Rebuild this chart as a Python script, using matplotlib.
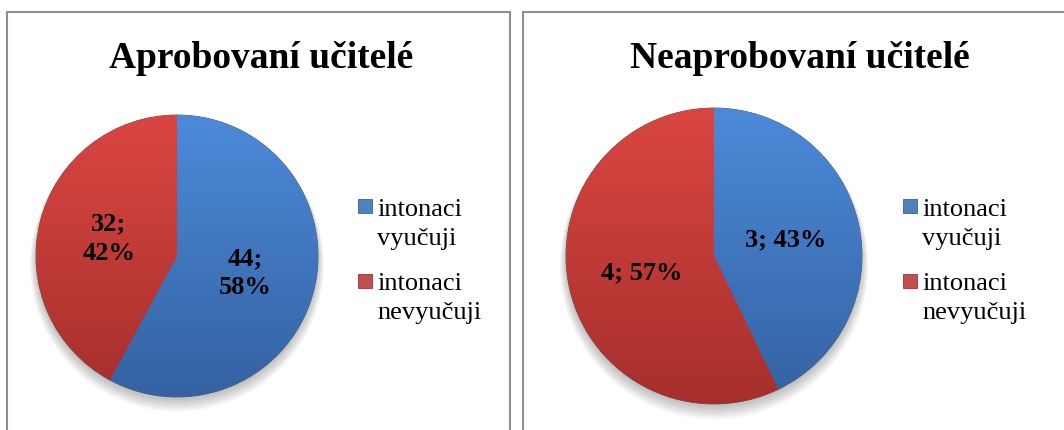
import numpy as np
import matplotlib.pyplot as plt
from matplotlib.patches import Rectangle, Circle
from matplotlib.colors import LinearSegmentedColormap

W, H = 1064, 430

titles = ['Aprobovaní učitelé', 'Neaprobovaní učitelé']
categories = ['intonaci vyučuji', 'intonaci nevyučuji']
aprobovani = [44, 32]
neaprobovani = [3, 4]

colors = ['#4f81bd', '#c0504d']
tops = ['#4c8ad9', '#da4641']
bottoms = ['#3462a2', '#a62f2c']

SERIF = ['Liberation Serif', 'DejaVu Serif']
plt.rcParams['font.family'] = SERIF

fig = plt.figure(figsize=(W / 100, H / 100), dpi=100)


def fx(x):
    return x / W


def fy(y):
    return 1 - y / H


def panel(x0, x1):
    # grey frame round each chart, bottom edge falls off the picture
    fig.add_artist(Rectangle((fx(x0), fy(470)), fx(x1) - fx(x0), fy(12) - fy(470),
                             transform=fig.transFigure, fill=False,
                             edgecolor='#8e8e8e', lw=1.5))


def draw_pie(values, cx, cy, r, sep, title, tx, lx):
    pad = 1.12
    ax = fig.add_axes([fx(cx - pad * r), fy(cy + pad * r), 2 * pad * r / W, 2 * pad * r / H])
    total = sum(values)

    # soft shadow under the pie
    for k in range(8):
        ax.add_patch(Circle((0, -0.02 - k * 0.006), 1 + k * 0.006, color='k',
                            alpha=0.03, lw=0, zorder=0))

    wedges, texts, autotexts = ax.pie(
        values, colors=colors, startangle=90, counterclock=False, radius=1,
        pctdistance=0.5,
        autopct=lambda p: f'{round(p * total / 100)};{sep}{p:.0f}%',
        wedgeprops=dict(lw=0.6, edgecolor='#555555'),
        textprops=dict(fontsize=19, fontweight='bold', color='black', family=SERIF))

    # vertical gradient inside each slice
    grad = np.linspace(0, 1, 256).reshape(-1, 1)
    for w, top, bot in zip(wedges, tops, bottoms):
        cmap = LinearSegmentedColormap.from_list('g', [top, bot])
        im = ax.imshow(grad, cmap=cmap, extent=(-1, 1, -1, 1), origin='upper',
                       aspect='auto', zorder=1.5)
        im.set_clip_path(w)
    for t in autotexts:
        t.set_linespacing(1.35)
        t.set_zorder(4)

    ax.set_xlim(-pad, pad)
    ax.set_ylim(-pad, pad)
    ax.axis('off')

    fig.text(fx(tx), fy(68), title, ha='center', va='baseline',
             fontsize=27, fontweight='bold', family=SERIF)

    # legend
    for i, lab in enumerate(categories):
        my = 199 + 75 * i
        fig.add_artist(Rectangle((fx(lx), fy(my + 14)), 14 / W, 14 / H,
                                 transform=fig.transFigure, facecolor=colors[i],
                                 edgecolor=bottoms[i], lw=0.6))
        for j, part in enumerate(lab.split(' ')):
            fig.text(fx(lx + 19), fy(216 + 74 * i + 29 * j), part,
                     ha='left', va='baseline', fontsize=19, family=SERIF)


panel(7, 510)
panel(523, 1070)
draw_pie(aprobovani, 177, 256, 141, '\n', titles[0], 261, 358)
draw_pie(neaprobovani, 714, 256, 148, ' ', titles[1], 800, 903)

fig.savefig('out.png', dpi=100)
